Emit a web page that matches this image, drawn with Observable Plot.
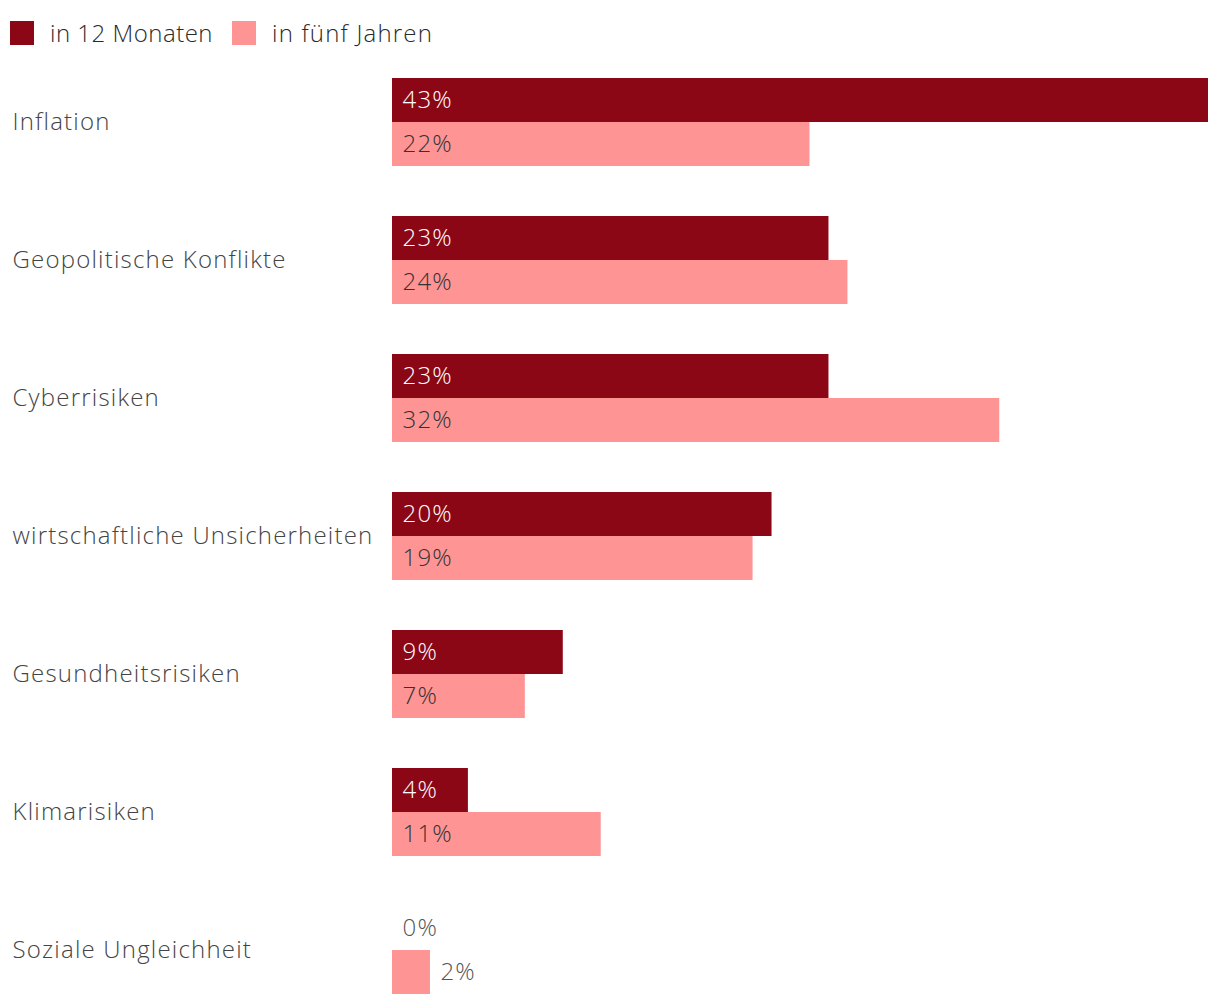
<!DOCTYPE html>
<html>
<head>
<meta charset="utf-8">
<script src="https://cdn.jsdelivr.net/npm/d3@7"></script>
<script src="https://cdn.jsdelivr.net/npm/@observablehq/plot@0.6"></script>
<style>
  body { margin: 0; background: #fff; font-family: "Open Sans", sans-serif; }
  #legend { height: 66px; position: relative; }
  .item { position: absolute; top: 21px; display: flex; align-items: center; font-size: 24px; color: #2a2a2a; line-height: 24px; font-weight: 300; }
  .sw { width: 24px; height: 24px; margin-right: 16px; }
</style>
</head>
<body>
<div id="legend"></div>
<div id="chart"></div>
<script>
const categories = ["Inflation", "Geopolitische Konflikte", "Cyberrisiken", "wirtschaftliche Unsicherheiten", "Gesundheitsrisiken", "Klimarisiken", "Soziale Ungleichheit"];
const series = ["in 12 Monaten", "in fünf Jahren"];
const values12 = [43, 23, 23, 20, 9, 4, 0];
const values5 = [22, 24, 32, 19, 7, 11, 2];
const colors = ["#8b0716", "#ff9494"];

const data = [];
categories.forEach((c, i) => {
  data.push({category: c, series: series[0], value: values12[i]});
  data.push({category: c, series: series[1], value: values5[i]});
});

const legend = document.getElementById("legend");
const lx = [10, 232];
const ls = ["0.5px", "1.2px"];
series.forEach((s, i) => {
  const el = document.createElement("div");
  el.className = "item";
  el.style.left = lx[i] + "px";
  el.style.letterSpacing = ls[i];
  el.innerHTML = `<div class="sw" style="background:${colors[i]}"></div><span>${s}</span>`;
  legend.appendChild(el);
});

const chart = Plot.plot({
  width: 1220,
  height: 940,
  marginLeft: 392,
  marginRight: 12,
  marginTop: 12,
  marginBottom: 12,
  style: { fontFamily: "Open Sans, sans-serif", fontSize: "24px", fontWeight: 300 },
  x: { domain: [0, 43], axis: null },
  y: { domain: series, axis: null, padding: 0 },
  fy: { domain: categories, axis: null, paddingInner: 50 / 138, paddingOuter: 0 },
  color: { domain: series, range: colors },
  marks: [
    Plot.barX(data, { fy: "category", y: "series", x: "value", fill: "series" }),
    Plot.text(categories, { fy: d => d, text: d => d, frameAnchor: "left", dx: -380, textAnchor: "start", fill: "#444", fontSize: 24, fontWeight: 300 }),
    Plot.text(data, {
      fy: "category", y: "series",
      x: d => d.value < 3 ? d.value : 0,
      text: d => d.value + "%",
      dx: 10, textAnchor: "start", fontSize: 24, fontWeight: 300,
      fill: d => d.value < 3 ? "#555" : (d.series === series[0] ? "#fff" : "#333")
    })
  ]
});
chart.querySelectorAll("text").forEach(t => t.style.letterSpacing = "1.2px");
document.getElementById("chart").appendChild(chart);
</script>
</body>
</html>
